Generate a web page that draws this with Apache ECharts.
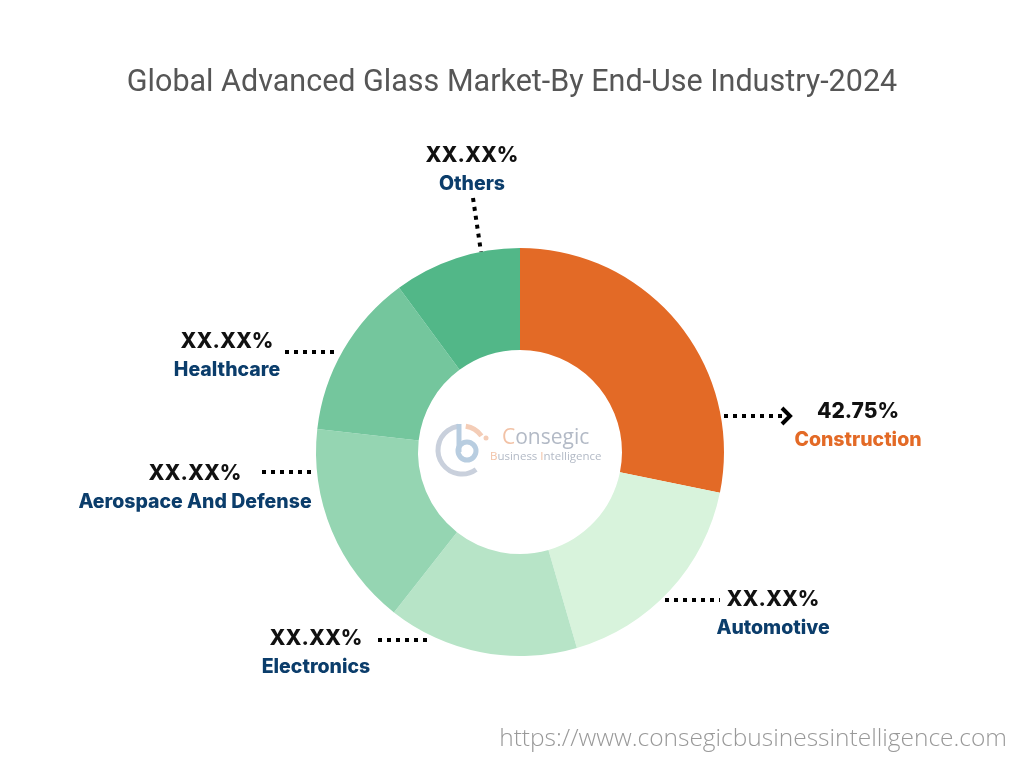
<!DOCTYPE html>
<html>
<head>
<meta charset="utf-8">
<script src="https://cdn.jsdelivr.net/npm/echarts@6/dist/echarts.min.js"></script>
<style>
  html, body { margin: 0; padding: 0; background: #ffffff; }
  #chart { width: 1024px; height: 768px; }
</style>
</head>
<body>
<div id="chart"></div>
<script>
// ---- data ----
const categories = ['Construction', 'Automotive', 'Electronics', 'Aerospace And Defense', 'Healthcare', 'Others'];
const shares = [28.2, 17.3, 15.1, 16.2, 13.1, 10.1];
const shareLabels = ['42.75%', 'XX.XX%', 'XX.XX%', 'XX.XX%', 'XX.XX%', 'XX.XX%'];
const sliceColors = ['#E36A26', '#D8F3DC', '#B7E4C7', '#95D5B2', '#74C69D', '#52B788'];

// ---- label annotation layout (text block centre x, block top y) ----
const labelAnchors = [[858, 397], [773, 585], [316, 624], [195, 459], [227, 327], [472, 141]];
// leader line endpoints [x1, y1, x2, y2]
const leaderLines = [
  [724, 416, 784, 416],
  [665, 600, 720, 600],
  [378, 640, 432, 640],
  [262, 472, 316, 472],
  [285, 352, 339, 352],
  [473, 198, 481, 252]
];

const chart = echarts.init(document.getElementById('chart'), null, { renderer: 'canvas' });

const data = categories.map((name, i) => ({
  name: name,
  value: shares[i],
  itemStyle: { color: sliceColors[i] },
  label: {
    formatter: '{p|' + shareLabels[i] + '}\n{n' + (i === 0 ? 'o' : '') + '|' + name + '}'
  }
}));

const option = {
  animation: false,
  title: {
    text: 'Global Advanced Glass Market-By End-Use Industry-2024',
    left: 'center',
    top: 63,
    textStyle: { fontFamily: 'Roboto', fontSize: 30.5, fontWeight: 'normal', color: '#565656' }
  },
  graphic: [
    {
      type: 'text', right: 17, top: 727,
      style: { text: 'https://www.consegicbusinessintelligence.com', fontFamily: 'Open Sans', fontSize: 24.5, fontWeight: 300, fill: '#999999' }
    },
    // faded logo in the centre
    { type: 'arc', shape: { cx: 462, cy: 450, r: 24, startAngle: Math.PI * 0.30, endAngle: Math.PI * 1.45, clockwise: true }, style: { stroke: '#c9d0dc', lineWidth: 5, fill: null } },
    { type: 'arc', shape: { cx: 462, cy: 450, r: 24, startAngle: Math.PI * 1.55, endAngle: Math.PI * 1.80, clockwise: true }, style: { stroke: '#f4cdb7', lineWidth: 5, fill: null } },
    { type: 'circle', shape: { cx: 486, cy: 438, r: 2.5 }, style: { fill: '#f4cdb7' } },
    { type: 'line', shape: { x1: 459, y1: 424, x2: 459, y2: 452 }, style: { stroke: '#b8cde0', lineWidth: 5 } },
    { type: 'circle', shape: { cx: 467, cy: 451, r: 9 }, style: { stroke: '#b8cde0', lineWidth: 5, fill: null } },
    {
      type: 'text', left: 502, top: 428,
      style: {
        text: '{o|C}{g|onsegic}',
        rich: { o: { fontSize: 21, fill: '#f2c2a6', fontFamily: 'Open Sans' }, g: { fontSize: 21, fill: '#b3bac6', fontFamily: 'Open Sans' } }
      }
    },
    {
      type: 'text', left: 490, top: 451,
      style: {
        text: '{o|B}{g|usiness }{o|I}{g|ntelligence}',
        rich: { o: { fontSize: 11.5, fill: '#f2c2a6', fontFamily: 'Open Sans' }, g: { fontSize: 11.5, fill: '#b3bac6', fontFamily: 'Open Sans' } }
      }
    },
    // arrow head on construction leader
    { type: 'polyline', shape: { points: [[782, 408], [790, 416], [782, 424]] }, style: { stroke: '#000', lineWidth: 4, fill: null } }
  ],
  series: [{
    type: 'pie',
    center: [520, 452],
    radius: [102, 204],
    startAngle: 90,
    clockwise: true,
    avoidLabelOverlap: false,
    emphasis: { disabled: true },
    label: {
      show: true,
      position: 'outside',
      rich: {
        p: { fontFamily: 'Inter', fontSize: 21, fontWeight: 800, color: '#111111', lineHeight: 29, align: 'center' },
        n: { fontFamily: 'Inter', fontSize: 19.5, fontWeight: 800, color: '#0B3D6B', lineHeight: 29, align: 'center' },
        no: { fontFamily: 'Inter', fontSize: 19.5, fontWeight: 800, color: '#E36A26', lineHeight: 29, align: 'center' }
      }
    },
    labelLine: {
      show: true,
      length: 10,
      length2: 10,
      lineStyle: { color: '#000000', width: 4, type: [4, 5], cap: 'butt' }
    },
    labelLayout: function (params) {
      const i = params.dataIndex;
      const a = labelAnchors[i];
      const l = leaderLines[i];
      return {
        x: a[0],
        y: a[1],
        align: 'center',
        verticalAlign: 'top',
        labelLinePoints: [[l[0], l[1]], [(l[0] + l[2]) / 2, (l[1] + l[3]) / 2], [l[2], l[3]]]
      };
    },
    data: data
  }]
};

chart.setOption(option);
</script>
</body>
</html>
